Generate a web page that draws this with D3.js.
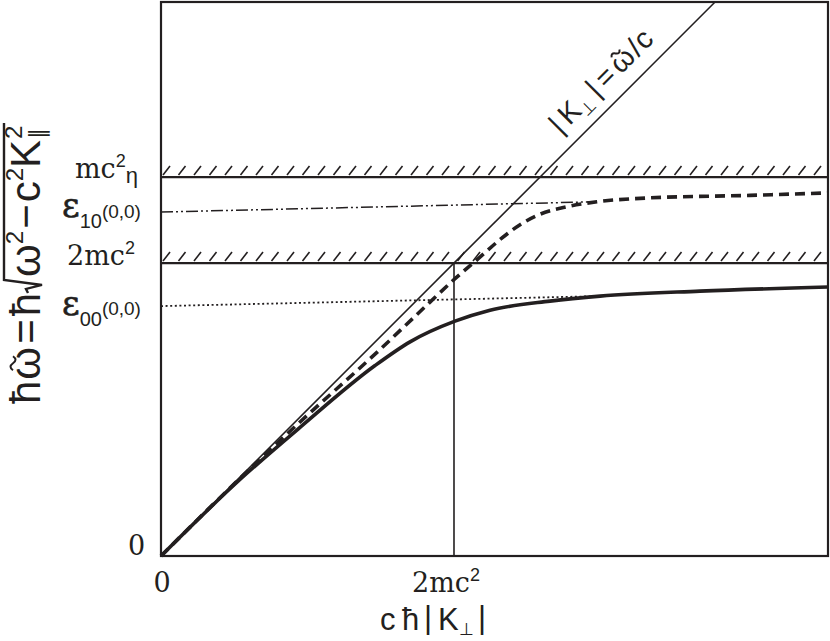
<!DOCTYPE html>
<html><head><meta charset="utf-8">
<script src="https://cdn.jsdelivr.net/npm/d3@7"></script>
<style>body{margin:0;background:#fff} svg{display:block}</style>
</head><body>
<svg id="c" width="830" height="641"></svg>
<script>
// ---- data ----
const xTickValues = [0, 2];
const xTickLabels = ["0", "2mc²"];
const levelNames = ["mc²η", "ε10(0,0)", "2mc²", "ε00(0,0)", "0"];
const levelValues = [2.587, 2.348, 2.0, 1.706, 0];
const hatchLevels = [2.0, 2.587];
const solidX = [0, 0.539, 0.949, 1.461, 1.700, 2.007, 2.246, 2.655, 2.997, 3.679, 4.553];
const solidY = [0, 0.522, 0.878, 1.300, 1.462, 1.603, 1.678, 1.740, 1.774, 1.808, 1.836];
const dashedX = [0, 0.539, 0.949, 1.474, 1.836, 2.007, 2.177, 2.314, 2.451, 2.587, 2.771, 2.976, 3.338, 4.020, 4.553];
const dashedY = [0, 0.530, 0.915, 1.390, 1.733, 1.893, 2.040, 2.160, 2.262, 2.333, 2.384, 2.418, 2.445, 2.462, 2.479];
const dashDotX = [0, 2.95];
const dashDotY = [2.348, 2.418];
const dottedX = [0, 2.99];
const dottedY = [1.706, 1.774];
const lightX = [0, 3.782];
const lightY = [0, 3.782];
const verticalX = [2, 2];
const verticalY = [0, 2.0];

// ---- setup ----
const ink = "#231f20";
const serif = "'DejaVu Serif', 'Liberation Serif', serif";
const sans = "'Liberation Sans', Arial, sans-serif";
const svg = d3.select("#c");
const x = d3.scaleLinear().domain([0, 4.553]).range([161, 828]);
const y = d3.scaleLinear().domain([0, 3.782]).range([556, 2]);
const line = d3.line().x(d => x(d[0])).y(d => y(d[1]));
const zip = (a, b) => a.map((v, i) => [v, b[i]]);

// frame
svg.append("rect").attr("x", x(0)).attr("y", y(3.782)).attr("width", x(4.553) - x(0)).attr("height", y(0) - y(3.782))
  .attr("fill", "none").attr("stroke", ink).attr("stroke-width", 2.2);

// hatched levels
hatchLevels.forEach(v => {
  const yl = y(v);
  svg.append("line").attr("x1", x(0)).attr("x2", x(4.553)).attr("y1", yl).attr("y2", yl)
    .attr("stroke", ink).attr("stroke-width", 2.2);
  const hx = d3.range(x(0) + 2, x(4.553) - 8, 15.5);
  svg.append("g").selectAll("line").data(hx).join("line")
    .attr("x1", d => d).attr("y1", yl - 2).attr("x2", d => d + 7).attr("y2", yl - 11)
    .attr("stroke", ink).attr("stroke-width", 1.6);
});

svg.append("path").attr("d", line(zip(lightX, lightY))).attr("fill", "none").attr("stroke", ink).attr("stroke-width", 1.6);
svg.append("path").attr("d", line(zip(verticalX, verticalY))).attr("fill", "none").attr("stroke", ink).attr("stroke-width", 1.6);
svg.append("path").attr("d", line(zip(dashDotX, dashDotY))).attr("fill", "none").attr("stroke", ink)
  .attr("stroke-width", 1.5).attr("stroke-dasharray", "12,3,2,3,2,3");
svg.append("path").attr("d", line(zip(dottedX, dottedY))).attr("fill", "none").attr("stroke", ink)
  .attr("stroke-width", 1.8).attr("stroke-dasharray", "2,2.6");
const curve = d3.line().x(d => x(d[0])).y(d => y(d[1])).curve(d3.curveMonotoneX);
svg.append("path").attr("d", curve(zip(solidX, solidY))).attr("fill", "none").attr("stroke", ink).attr("stroke-width", 3.6);
svg.append("path").attr("d", curve(zip(dashedX, dashedY))).attr("fill", "none").attr("stroke", ink)
  .attr("stroke-width", 3.6).attr("stroke-dasharray", "10,6");

// ---- text helpers ----
function rich(parent, px, py, parts, anchor) {
  const t = parent.append("text").attr("x", px).attr("y", py).attr("fill", ink).attr("text-anchor", anchor || "start");
  let cur = 0;
  parts.forEach(([s, fam, size, off, extra]) => {
    const ts = t.append("tspan").attr("dy", off - cur).attr("font-family", fam).attr("font-size", size).text(s);
    if (extra) ts.attr("stroke", ink).attr("stroke-width", extra);
    cur = off;
  });
  return t;
}
function tilde(g, cx, cy, w, h) {
  g.append("path").attr("d", `M${cx - w / 2},${cy} q${w / 4},${-h * 2} ${w / 2},0 t${w / 2},0`)
    .attr("fill", "none").attr("stroke", ink).attr("stroke-width", 2);
}

// left level labels
const levelParts = [
  [75, 1, [["mc", serif, 27, 0], ["2", sans, 18, -11], ["η", sans, 22, 5]]],
  [62, 5, [["ε", serif, 34, 0, 0.6], ["10", sans, 20, 11], ["(0,0)", sans, 19, 1]]],
  [67, 2, [["2mc", serif, 27, 0], ["2", sans, 18, -11]]],
  [62, 9, [["ε", serif, 34, 0, 0.6], ["00", sans, 20, 11], ["(0,0)", sans, 19, 0]]],
  [128, -1, [["0", serif, 27, 0]]]
];
levelValues.forEach((v, i) => {
  const [lx, off, parts] = levelParts[i];
  rich(svg, lx, y(v) + off, parts);
});

// x tick labels
rich(svg, x(xTickValues[0]) + 1, 592, [["0", serif, 27, 0]], "middle");
rich(svg, x(xTickValues[1]) - 42, 592, [["2mc", serif, 27, 0], ["2", sans, 18, -11]]);

// x title
const xt = svg.append("g").attr("fill", ink).attr("font-family", sans);
[["c", 380, 31, 0], ["ħ", 402, 31, 0], ["|", 424, 31, -2], ["K", 438, 31, 0], ["⊥", 459, 17, 5], ["|", 478, 31, -2]]
  .forEach(([s, px, size, off]) => xt.append("text").attr("x", px).attr("y", 630 + off).attr("font-size", size).text(s));

// y title (rotated)
const yt = svg.append("g").attr("transform", "translate(40,404) rotate(-90)").attr("fill", ink).attr("font-family", sans);
const S = 42;
let cx = 0;
function put(s, size, off, adv = true, extra = 0) {
  const t = yt.append("text").attr("x", cx).attr("y", off).attr("font-size", size).text(s);
  const w = t.node().getComputedTextLength();
  if (adv) cx += w + extra;
  return w;
}
put("ħ", S, 0, true, 1);
const wStart = cx;
const ww = put("ω", S, 0, true, 3);
tilde(yt, wStart + ww / 2, -27, 14, 2.5);
put("=", S, 0, true, 3); put("ħ", S, 0);
const r0 = cx;
cx += 16;
put("ω", S, 0); put("2", 24, -17, true, 2); put("−", S, 0, true, 2); put("c", S, 0); put("2", 24, -17);
put("K", S, 0, true, 1);
const k = cx;
put("2", 24, -18, false); put("∥", 22, 5, true); cx = Math.max(cx, k + 14) + 2;
yt.append("path").attr("d", `M${r0},-12 L${r0 + 4},-14 L${r0 + 8},2 L${r0 + 13},-36 L${cx},-36`)
  .attr("fill", "none").attr("stroke", ink).attr("stroke-width", 2.4);

// diagonal label
const ang = Math.atan2(y(1) - y(0), x(1) - x(0)) * 180 / Math.PI;
const t0 = 2.80;
const off = 15;
const dg = svg.append("g").attr("transform", `translate(${x(t0) - Math.SQRT1_2 * off},${y(t0) - Math.SQRT1_2 * off}) rotate(${ang})`)
  .attr("fill", ink).attr("font-family", sans);
let dx = 0;
[["|", 29, 0, 5], ["K", 29, 0, 0], ["⊥", 17, 6, 5], ["|", 29, 0, 5], ["=", 29, 0, 4], ["ω", 29, 0, 2], ["/", 29, 0, 1], ["c", 29, 0, 0]]
  .forEach(([s, size, o, gap]) => {
    const t = dg.append("text").attr("x", dx).attr("y", o).attr("font-size", size).text(s);
    const w = t.node().getComputedTextLength();
    if (s === "ω") tilde(dg, dx + w / 2, -19, 11, 2);
    dx += w + gap;
  });
</script>
</body></html>
